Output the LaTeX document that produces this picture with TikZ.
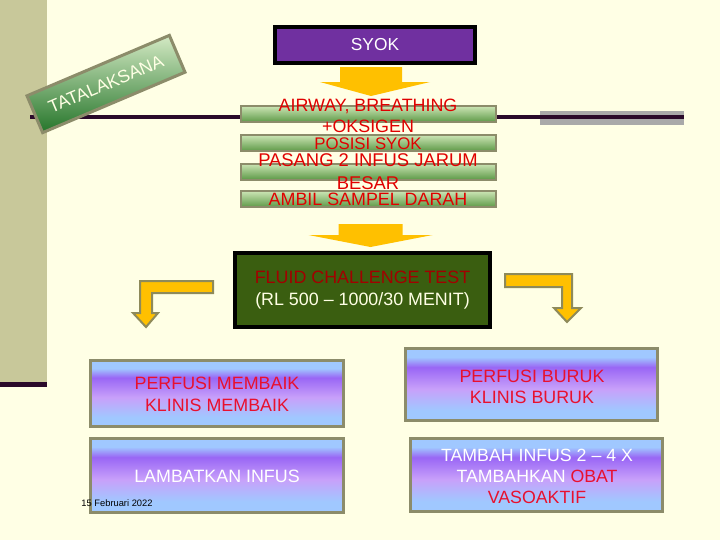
\documentclass[tikz,border=0pt]{standalone}
\usepackage{fontspec}
\setmainfont{Liberation Sans}
\usetikzlibrary{calc}

\definecolor{bgcream}{HTML}{FFFFE5}
\definecolor{sidebar}{HTML}{C8C89A}
\definecolor{darkline}{HTML}{2A0A2A}
\definecolor{bandgray}{HTML}{A9A9A9}
\definecolor{syokpurple}{HTML}{7030A0}
\definecolor{ygold}{HTML}{FFC000}
\definecolor{olive}{HTML}{8C8C6A}
\definecolor{arrowedge}{HTML}{8E8A5A}
\definecolor{barlight}{HTML}{CCE5B5}
\definecolor{bardark}{HTML}{5E9A48}
\definecolor{tatalight}{HTML}{D4EAC4}
\definecolor{tatadark}{HTML}{25752A}
\definecolor{fluidgreen}{HTML}{3A5E10}
\definecolor{fluidred}{HTML}{A20000}
\definecolor{txtred}{HTML}{E00000}
\definecolor{boxred}{HTML}{E8102E}
\definecolor{lb}{HTML}{A0C8FF}
\definecolor{pur}{HTML}{9966F5}
\definecolor{lav}{HTML}{C8A0FA}

\pgfdeclareverticalshading{perfusi}{100bp}{color(0bp)=(lb); color(25bp)=(lb); color(32bp)=(lb); color(47bp)=(lav); color(62bp)=(pur); color(69bp)=(lb); color(75bp)=(lb); color(100bp)=(lb)}

\tikzset{
  bar/.style={draw=olive, line width=1.5pt, top color=barlight, bottom color=bardark,
    minimum width=191pt, minimum height=12pt, inner sep=0pt},
  redtext/.style={text=txtred, align=center, inner sep=0pt, font=\fontsize{13.4}{16.2}\selectfont},
  pbox/.style={draw=olive, line width=2.25pt, shading=perfusi, minimum width=189.5pt, inner sep=0pt},
  ptext/.style={align=center, inner sep=0pt, font=\fontsize{13.4}{16.5}\selectfont},
  yarrow/.style={fill=ygold},
  bentarrow/.style={fill=ygold, draw=arrowedge, line width=1.5pt, line join=miter}
}

\begin{document}
\begin{tikzpicture}[x=0.75pt,y=-0.75pt]
\useasboundingbox (0,0) rectangle (720,540);
\fill[bgcream] (0,0) rectangle (720,540);
\fill[sidebar] (0,0) rectangle (47,382);
\fill[darkline] (0,382) rectangle (47,387);
\fill[bandgray] (540,111) rectangle (684,125);
\draw[darkline, line width=3pt] (30,117) -- (684,117);

\node[draw=olive, line width=2.25pt, top color=tatalight, bottom color=tatadark, rotate=23,
  minimum width=116pt, minimum height=30pt, text=bgcream, font=\fontsize{13.3}{16}\selectfont]
  (tata) at (106,84) {TATALAKSANA};

\node[draw=black, line width=3pt, fill=syokpurple, minimum width=150pt, minimum height=27pt,
  text=white, font=\fontsize{13}{16}\selectfont] (syok) at (375,45) {SYOK};
\fill[yarrow] (syok.south) ++(-35,2) -- ++(62,0) -- ++(0,15) -- ++(28,0) -- ++(-59,14)
  -- ++(-51,-14) -- ++(20,0) -- cycle;

\node[bar] (bar1) at (368.5,114) {};
\node[bar] (bar2) at (368.5,143) {};
\node[bar] (bar3) at (368.5,171.5) {};
\node[bar] (bar4) at (368.5,199) {};
\node[redtext] (airway) at (368,115.75) {AIRWAY, BREATHING\\+OKSIGEN};
\node[redtext, font=\fontsize{12.6}{15}\selectfont] (posisi) at (368,143.5) {POSISI SYOK};
\node[redtext, font=\fontsize{13.8}{17.6}\selectfont] (pasang) at (368,171.75) {PASANG 2 INFUS JARUM\\BESAR};
\node[redtext] (ambil) at (368,199) {AMBIL SAMPEL DARAH};

\fill[yarrow] (bar4.south) ++(-30,16) -- ++(64,0) -- ++(0,11) -- ++(30,0) -- ++(-62,12)
  -- ++(-62,-12) -- ++(30,0) -- cycle;

\node[draw=black, line width=3pt, fill=fluidgreen, minimum width=191.25pt, minimum height=55.5pt,
  align=center, font=\fontsize{13.4}{16.5}\selectfont] (fluid) at (362.5,290)
  {\textcolor{fluidred}{FLUID CHALLENGE TEST}\\\textcolor{bgcream}{(RL 500 – 1000/30 MENIT)}};

\draw[bentarrow] (fluid.west) ++(-20,-9) -- ++(-73,0) -- ++(0,32) -- ++(-7,0) -- ++(13,14)
  -- ++(12,-14) -- ++(-6,0) -- ++(0,-20) -- ++(61,0) -- cycle;
\draw[bentarrow] (fluid.east) ++(13,-16) -- ++(67,0) -- ++(0,34) -- ++(9,0) -- ++(-14,14)
  -- ++(-13,-14) -- ++(8,0) -- ++(0,-21) -- ++(-57,0) -- cycle;

\node[pbox, minimum height=49.5pt] (membaik) at (217,393.5) {};
\node[ptext, text=boxred] at (217,394) {PERFUSI MEMBAIK\\KLINIS MEMBAIK};
\node[pbox, minimum height=55.5pt] (lambat) at (217,475) {};
\node[ptext, text=white] at (217,476) {LAMBATKAN INFUS};
\node[font=\fontsize{7}{8}\selectfont, inner sep=0pt] (tanggal) at (117,503) {15 Februari 2022};

\node[pbox, minimum height=54pt] (buruk) at (531.5,384.5) {};
\node[ptext, text=boxred, font=\fontsize{13.4}{15.75}\selectfont] at (532,386.5) {PERFUSI BURUK\\KLINIS BURUK};
\node[pbox, minimum height=55pt] (tambah) at (536.5,475) {};
\node[ptext, text=white, font=\fontsize{13.3}{15.75}\selectfont] at (537,476)
  {TAMBAH INFUS 2 – 4 X\\TAMBAHKAN \textcolor{boxred}{OBAT}\\\textcolor{boxred}{VASOAKTIF}};
\end{tikzpicture}
\end{document}
